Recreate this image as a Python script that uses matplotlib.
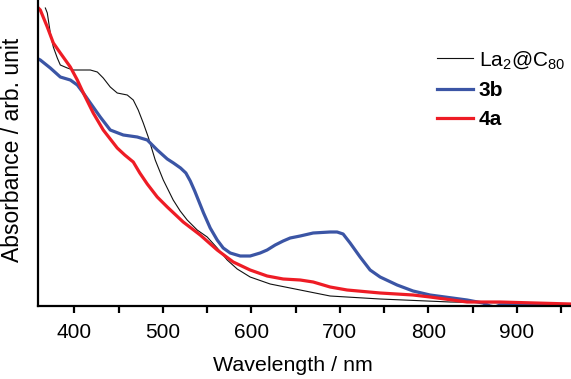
import matplotlib
matplotlib.use("Agg")
import matplotlib.pyplot as plt

plt.rcParams['font.family'] = ['Liberation Sans', 'DejaVu Sans']
plt.rcParams['mathtext.fontset'] = 'custom'
plt.rcParams['mathtext.rm'] = 'Liberation Sans'
plt.rcParams['mathtext.it'] = 'Liberation Sans'

# La2@C80 (black)
wl_la = [367.3, 369.5, 372.9, 376.3, 380.8, 384.2, 392.1, 398.9, 418.1, 426.0, 432.7,
         440.6, 448.5, 459.8, 466.6, 472.2, 477.9, 483.5, 491.4, 500.5, 511.7, 519.6,
         527.5, 538.8, 550.1, 561.4, 572.7, 584.0, 598.6, 621.2, 655.1, 688.9, 745.4,
         824.4, 961]
ab_la = [298, 293, 273, 259, 248, 241, 238, 236, 236, 234, 228,
         219, 213, 211, 206, 196, 183, 169, 146, 126, 106, 95,
         86, 76, 69, 58, 46, 37, 29, 22, 16, 10, 7,
         4, 2]

# 3b (blue)
wl_3b = [359.4, 361.6, 372.9, 384.2, 395.5, 403.4, 410.2, 418.1, 429.3, 440.6, 455.3,
         471.1, 482.4, 493.7, 505.0, 512.0, 520.0, 526.0, 531.0, 536.0, 541.0, 546.0,
         553.5, 561.4, 568.2, 576.1, 587.4, 598.6, 609.9, 617.8, 626.9, 635.9, 643.8,
         655.1, 669.8, 688.9, 696.8, 703.6, 711.5, 722.8, 734.1, 745.4, 764.6, 782.6,
         801.8, 843.6, 861.6, 869.5, 875.2, 880.8, 900, 961]
ab_3b = [247, 246, 238, 229, 226, 221, 213, 203, 189, 176, 171,
         169, 166, 156, 147, 143, 138, 133, 125, 115, 104, 93,
         78, 66, 58, 53, 50, 50, 53, 56, 61, 65, 68,
         70, 73, 74, 74, 72, 63, 49, 36, 29, 21, 15,
         11, 6, 3, 0, -1, 1, 1, 0]

# 4a (red)
wl_4a = [359.4, 361.6, 369.5, 376.3, 384.2, 395.5, 403.4, 410.2, 421.4, 432.7, 440.6,
         448.5, 457.0, 466.6, 474.0, 482.4, 493.7, 505.0, 523.0, 542.2, 561.4, 579.5,
         598.6, 617.8, 635.9, 655.1, 669.8, 688.9, 708.1, 745.4, 782.6, 801.8, 843.6,
         880.8, 961]
ab_4a = [298, 296, 279, 263, 253, 239, 226, 213, 193, 176, 167,
         158, 151, 144, 133, 122, 109, 99, 84, 71, 56, 44,
         36, 30, 27, 26, 24, 19, 16, 13, 11, 9, 4,
         4, 2]

xticks_major = [400, 500, 600, 700, 800, 900]
xticks_minor = [450, 550, 650, 750, 850, 950]

W, H = 571, 379
fig = plt.figure(figsize=(W/100, H/100), dpi=100)
ax = fig.add_axes([38/W, (H-306)/H, 1 - 38/W, 306/H])

ax.plot(wl_la, ab_la, color='#111111', lw=0.8, label='La$_2$@C$_{80}$',
        solid_joinstyle='round')
ax.plot(wl_3b, ab_3b, color='#3b55a5', lw=2.3, label='3b', solid_joinstyle='round')
ax.plot(wl_4a, ab_4a, color='#ee1c25', lw=2.3, label='4a', solid_joinstyle='round')

ax.set_xlim(359, 961)
ax.set_ylim(0, 306)
ax.set_yticks([])
ax.set_xticks(xticks_major)
ax.set_xticks(xticks_minor, minor=True)
ax.tick_params(axis='x', which='both', direction='out', length=5, width=1.6,
               labelsize=15, pad=7)
for s in ['top', 'right']:
    ax.spines[s].set_visible(False)
ax.spines['left'].set_linewidth(1.6)
ax.spines['bottom'].set_linewidth(1.6)

fig.text(293/W, 1 - 371/H, 'Wavelength / nm', fontsize=15.4,
         ha='center', va='baseline')
fig.text(13/W, 1 - 150/H, 'Absorbance / arb. unit', fontsize=16.5,
         ha='center', va='center', rotation=90)

leg = ax.legend(loc='upper left', bbox_to_anchor=(437/W, 1 - 49/H),
                bbox_transform=fig.transFigure, frameon=False, fontsize=15,
                handlelength=1.75, handletextpad=0.25, labelspacing=0.5,
                borderpad=0, borderaxespad=0)
texts = leg.get_texts()
texts[1].set_fontweight('bold')
texts[2].set_fontweight('bold')

fig.savefig('out.png', dpi=100)
